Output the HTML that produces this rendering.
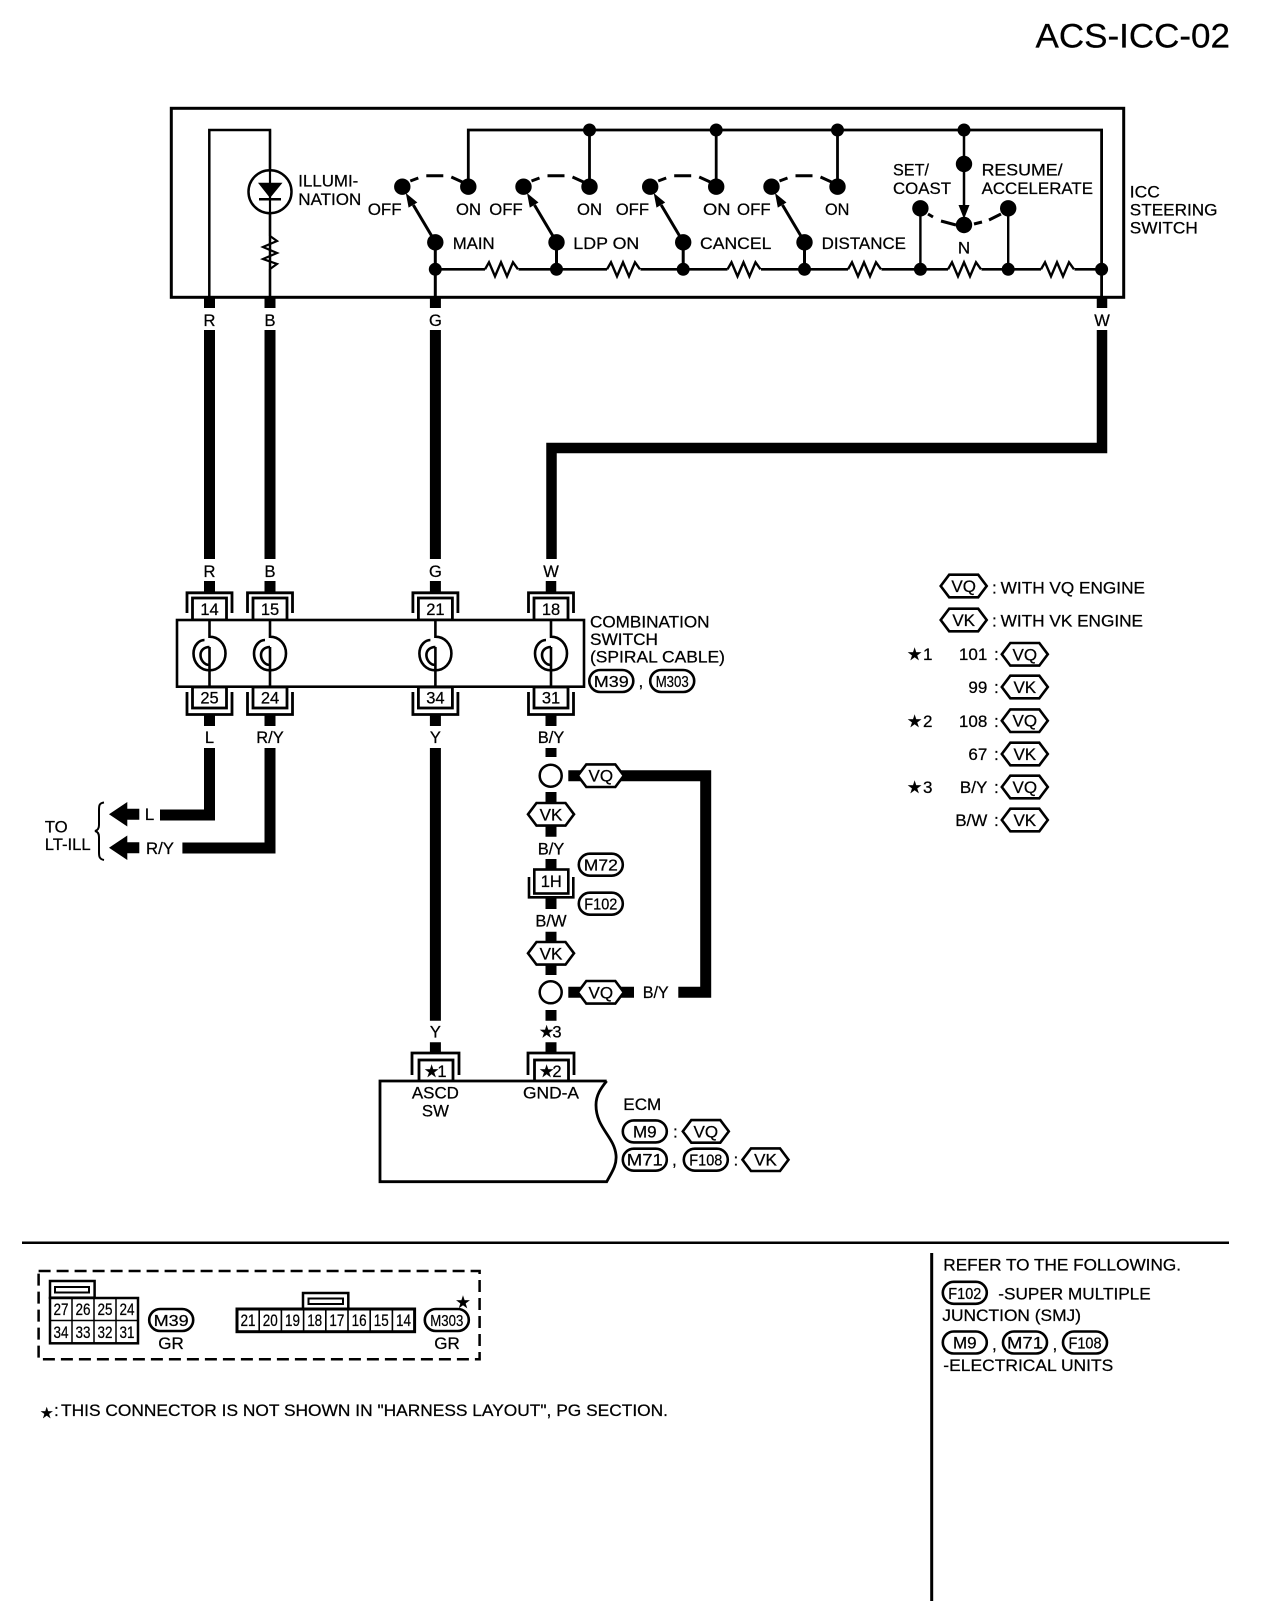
<!DOCTYPE html>
<html><head><meta charset="utf-8"><style>
html,body{margin:0;padding:0;background:#fff}
svg{display:block}
text{font-family:"Liberation Sans",sans-serif;font-size:17px;fill:#000;stroke:#000;stroke-width:.25}
.c{text-anchor:middle}.e{text-anchor:end}
.n{font-size:16.5px;text-anchor:middle}
.st{font-family:"DejaVu Sans",sans-serif;font-size:17px}
.s{font-size:16.5px;text-anchor:middle}
</style></head><body>
<svg width="1280" height="1622" viewBox="0 0 1280 1622" xmlns="http://www.w3.org/2000/svg">
<defs>
<polygon id="hx" points="-23,0 -14.5,-11.3 14.5,-11.3 23,0 14.5,11.3 -14.5,11.3" fill="#fff" stroke="#000" stroke-width="2.6"/>
<rect id="ov" x="-22" y="-11" width="44" height="22" rx="11" fill="#fff" stroke="#000" stroke-width="2.6"/>
<g id="sw">
<circle cx="0" cy="186.7" r="8.2"/><circle cx="66" cy="186.7" r="8.2"/><circle cx="33" cy="242.3" r="8.2"/>
<path d="M8,181 L16,178 M24,175.7 H41 M49,177 L60,182" fill="none" stroke="#000" stroke-width="3"/>
<path d="M33,242 L11,205" stroke="#000" stroke-width="3" fill="none"/>
<polygon points="3.5,193 15,202.5 6.3,207.6"/>
<path d="M33,242 V269" stroke="#000" stroke-width="3" fill="none"/>
<circle cx="33" cy="269.3" r="6.5"/>
</g>
<path id="rs" d="M0,0 L4,-7 L10,7 L16,-7 L22,7 L28,-7 L33,0" fill="none" stroke="#000" stroke-width="2.4"/>
<g id="spi" fill="none" stroke="#000" stroke-width="2.6">
<path d="M0,620 V636.7 C9,636.7 16,644 16,653.5 C16,663 9,670.3 0,670.3 C-9,670.3 -16,663 -16,653.5 C-16,645 -10,640 -5,640"/>
<path d="M0,665 C-6,665 -9,659 -9,655 C-9,650 -5,647 0,647"/>
<path d="M0,687 V647"/>
</g>
<g id="ct" fill="none" stroke="#000" stroke-width="2.8">
<path d="M-22.5,613 V592.8 H22.5 V613"/>
<rect x="-17" y="598" width="34" height="22" fill="#fff"/>
</g>
<g id="cb" fill="none" stroke="#000" stroke-width="2.8">
<path d="M-22.5,692 V714.5 H22.5 V692"/>
<rect x="-17" y="687" width="34" height="21" fill="#fff"/>
</g>
</defs>

<text x="1035.5" y="47.3" style="font-size:34.5px" textLength="194.5" lengthAdjust="spacingAndGlyphs">ACS-ICC-02</text>

<!-- ICC switch -->
<rect x="171.3" y="108.3" width="952.4" height="189" fill="none" stroke="#000" stroke-width="3"/>
<path d="M209.3,297 V130 H270 V297" fill="none" stroke="#000" stroke-width="2.5"/>
<path d="M468.3,186 V130 H1101.6 V297" fill="none" stroke="#000" stroke-width="2.8"/>
<circle cx="270" cy="191.7" r="21.5" fill="#fff" stroke="#000" stroke-width="2.5"/>
<path d="M270,130 V236 M270,269 V297" stroke="#000" stroke-width="2.2" fill="none"/>
<polygon points="258,182.7 282.5,182.7 270,198"/>
<path d="M259,199.3 H281" stroke="#000" stroke-width="2.5"/>
<path d="M270,236 L277,241 L263,247 L277,253 L263,259 L277,264 L270,269" fill="none" stroke="#000" stroke-width="2.2"/>
<text x="298.3" y="186.7" textLength="60" lengthAdjust="spacingAndGlyphs">ILLUMI-</text>
<text x="298.3" y="205" textLength="63" lengthAdjust="spacingAndGlyphs">NATION</text>

<path d="M435.3,269.3 H1101.6" stroke="#000" stroke-width="2.6" fill="none"/>
<g fill="#fff" stroke="none">
<rect x="485" y="262" width="33.5" height="15"/><rect x="607" y="262" width="33.5" height="15"/><rect x="727.5" y="262" width="33.5" height="15"/><rect x="848" y="262" width="33.5" height="15"/><rect x="948" y="262" width="33.5" height="15"/><rect x="1041" y="262" width="33.5" height="15"/>
</g>
<use href="#rs" x="485" y="269.3"/><use href="#rs" x="607" y="269.3"/><use href="#rs" x="727.5" y="269.3"/><use href="#rs" x="848" y="269.3"/><use href="#rs" x="948" y="269.3"/><use href="#rs" x="1041" y="269.3"/>

<use href="#sw" x="402.3"/><use href="#sw" x="523.5"/><use href="#sw" x="650.2"/><use href="#sw" x="771.5"/>
<path d="M435.3,269 V297" stroke="#000" stroke-width="3"/>
<path d="M589.5,130 V186 M716.2,130 V186 M837.5,130 V186" stroke="#000" stroke-width="2.8"/>
<circle cx="589.5" cy="130" r="6.5"/><circle cx="716.2" cy="130" r="6.5"/><circle cx="837.5" cy="130" r="6.5"/><circle cx="964" cy="130" r="6.5"/>

<text x="367.7" y="215" textLength="34" lengthAdjust="spacingAndGlyphs">OFF</text>
<text x="456" y="215" textLength="25" lengthAdjust="spacingAndGlyphs">ON</text>
<text x="489.3" y="215" textLength="33.4" lengthAdjust="spacingAndGlyphs">OFF</text>
<text x="577" y="215" textLength="25" lengthAdjust="spacingAndGlyphs">ON</text>
<text x="615.7" y="215" textLength="33.4" lengthAdjust="spacingAndGlyphs">OFF</text>
<text x="703" y="215" textLength="27.6" lengthAdjust="spacingAndGlyphs">ON</text>
<text x="737" y="215" textLength="33.6" lengthAdjust="spacingAndGlyphs">OFF</text>
<text x="825" y="215" textLength="24.4" lengthAdjust="spacingAndGlyphs">ON</text>
<text x="452.7" y="249" textLength="42" lengthAdjust="spacingAndGlyphs">MAIN</text>
<text x="573.3" y="249" textLength="66" lengthAdjust="spacingAndGlyphs">LDP ON</text>
<text x="700" y="249" textLength="71.4" lengthAdjust="spacingAndGlyphs">CANCEL</text>
<text x="821.6" y="249" textLength="84.4" lengthAdjust="spacingAndGlyphs">DISTANCE</text>

<!-- set / resume -->
<path d="M964,130 V208" stroke="#000" stroke-width="2.5"/>
<circle cx="964" cy="164" r="8.2"/>
<polygon points="964,219 958.5,205 969.5,205"/>
<circle cx="964" cy="225" r="8.2"/>
<circle cx="920.4" cy="208.3" r="8.2"/><circle cx="1008.2" cy="208.3" r="8.2"/>
<path d="M920.4,208 V269 M1008.2,208 V269" stroke="#000" stroke-width="2.4"/>
<path d="M928,214 L933,217 M941,221 L956,225 M974,224 L982,222 M989,220 L1001,214" fill="none" stroke="#000" stroke-width="3"/>
<circle cx="920.4" cy="269.3" r="6.5"/><circle cx="1008.2" cy="269.3" r="6.5"/><circle cx="1101.6" cy="269.3" r="6.5"/>
<text x="893" y="175.7" textLength="36" lengthAdjust="spacingAndGlyphs">SET/</text>
<text x="893" y="194" textLength="58" lengthAdjust="spacingAndGlyphs">COAST</text>
<text x="981.6" y="175.7" textLength="81" lengthAdjust="spacingAndGlyphs">RESUME/</text>
<text x="981.6" y="194" textLength="111.4" lengthAdjust="spacingAndGlyphs">ACCELERATE</text>
<text class="c" x="964" y="253.3">N</text>
<text x="1129.8" y="197.3" textLength="30" lengthAdjust="spacingAndGlyphs">ICC</text>
<text x="1129.8" y="215.7" textLength="87.7" lengthAdjust="spacingAndGlyphs">STEERING</text>
<text x="1129.8" y="233.3" textLength="68" lengthAdjust="spacingAndGlyphs">SWITCH</text>

<!-- wires -->
<g stroke="#000" stroke-width="11" fill="none">
<path d="M209.5,297 V308 M209.5,330 V559 M209.5,581 V593"/>
<path d="M270,297 V308 M270,330 V559 M270,581 V593"/>
<path d="M435.4,297 V308 M435.4,330 V559 M435.4,581 V593"/>
<path d="M1102,297 V308 M1102,330 V448 H551.5 V559 M551,581 V593" stroke-width="10.5"/>
<path d="M209.5,714 V726 M270,714 V726 M435.4,714 V726 M551,714 V726"/>
<path d="M209.5,748 V815 H160"/>
<path d="M270,748 V848 H182.4"/>
<path d="M435.4,748 V1020.7 M435.4,1042.3 V1053"/>
<path d="M551,748 V757 M551,792 V803 M551,826 V836.7 M551,859 V870 M551,897 V909 M551,931.7 V942 M551,964 V975 M551,1010 V1020.7 M551,1042.3 V1053"/>
<path d="M568.3,775.7 H705.7 V992.3 H678.3"/>
<path d="M568.3,992.3 H634"/>
</g>
<text class="s" x="209.5" y="326">R</text><text class="s" x="270" y="326">B</text><text class="s" x="435.4" y="326">G</text><text class="s" x="1102" y="326">W</text>
<text class="s" x="209.5" y="577">R</text><text class="s" x="270" y="577">B</text><text class="s" x="435.4" y="577">G</text><text class="s" x="551" y="577">W</text>
<text class="s" x="209.5" y="743">L</text><text class="s" x="270" y="743">R/Y</text><text class="s" x="435.4" y="743">Y</text><text class="s" x="551" y="743">B/Y</text>

<!-- combination switch -->
<use href="#ct" x="209.5"/><use href="#ct" x="270"/><use href="#ct" x="435.4"/><use href="#ct" x="551"/>
<use href="#cb" x="209.5"/><use href="#cb" x="270"/><use href="#cb" x="435.4"/><use href="#cb" x="551"/>
<rect x="177" y="620" width="407" height="66.7" fill="#fff" stroke="#000" stroke-width="2.6"/>
<use href="#spi" x="209.5"/><use href="#spi" x="270"/><use href="#spi" x="435.4"/><use href="#spi" x="551"/>
<text class="n" x="209.5" y="615">14</text><text class="n" x="270" y="615">15</text><text class="n" x="435.4" y="615">21</text><text class="n" x="551" y="615">18</text>
<text class="n" x="209.5" y="703.5">25</text><text class="n" x="270" y="703.5">24</text><text class="n" x="435.4" y="703.5">34</text><text class="n" x="551" y="703.5">31</text>
<text x="590" y="627.3" textLength="119.5" lengthAdjust="spacingAndGlyphs">COMBINATION</text>
<text x="590" y="645" textLength="68" lengthAdjust="spacingAndGlyphs">SWITCH</text>
<text x="590" y="662.7" textLength="135" lengthAdjust="spacingAndGlyphs">(SPIRAL CABLE)</text>
<use href="#ov" x="611.3" y="681"/><text class="c" x="611.3" y="687" style="font-size:16px" textLength="35" lengthAdjust="spacingAndGlyphs">M39</text>
<text x="638.5" y="687">,</text>
<use href="#ov" x="672.2" y="681"/><text class="c" x="672.2" y="687" style="font-size:16px" textLength="33" lengthAdjust="spacingAndGlyphs">M303</text>

<!-- LT-ILL -->
<polygon points="109,814.3 127.3,802 127.3,808.8 139.3,808.8 139.3,819.8 127.3,819.8 127.3,826.5"/>
<polygon points="109,847.7 127.3,835.5 127.3,842.2 139.3,842.2 139.3,853.2 127.3,853.2 127.3,860"/>
<text x="144.8" y="820">L</text><text x="146" y="854" textLength="28" lengthAdjust="spacingAndGlyphs">R/Y</text>
<path d="M104,802.5 C99,803 99,806 99,810 V825 C99,829 97,830.5 95,831 C97,831.5 99,833 99,837 V852 C99,856 99,859 104,860" fill="none" stroke="#000" stroke-width="2"/>
<text x="44.7" y="832.7" textLength="23" lengthAdjust="spacingAndGlyphs">TO</text>
<text x="44.7" y="850" textLength="46" lengthAdjust="spacingAndGlyphs">LT-ILL</text>

<!-- splices -->
<circle cx="550.7" cy="775.7" r="11" fill="#fff" stroke="#000" stroke-width="2.5"/>
<circle cx="550.7" cy="992.3" r="11" fill="#fff" stroke="#000" stroke-width="2.5"/>
<use href="#hx" x="600.8" y="775.7"/><text class="c" x="600.8" y="781.7">VQ</text>
<use href="#hx" x="551" y="814.3"/><text class="c" x="551" y="820.3">VK</text>
<text class="s" x="551" y="854.3">B/Y</text>
<path d="M529,877 V897.3 H573.3 V877" fill="none" stroke="#000" stroke-width="2.6"/>
<rect x="534.3" y="869.5" width="34" height="24" fill="#fff" stroke="#000" stroke-width="2.6"/>
<text class="n" x="551.3" y="887">1H</text>
<use href="#ov" x="600.8" y="864.7"/><text class="c" x="600.8" y="870.5" style="font-size:16px" textLength="34" lengthAdjust="spacingAndGlyphs">M72</text>
<use href="#ov" x="600.8" y="903.7"/><text class="c" x="600.8" y="909.5" style="font-size:16px" textLength="33" lengthAdjust="spacingAndGlyphs">F102</text>
<text class="s" x="551" y="926.7">B/W</text>
<use href="#hx" x="551" y="953.3"/><text class="c" x="551" y="959.3">VK</text>
<use href="#hx" x="600.8" y="992.3"/><text class="c" x="600.8" y="998.3">VQ</text>
<text x="642.7" y="998" style="font-size:16.5px" textLength="26" lengthAdjust="spacingAndGlyphs">B/Y</text>
<text class="s" x="435.4" y="1037.7">Y</text>
<text class="st" x="539" y="1037.7">★</text><text class="n" x="557" y="1037.7">3</text>

<!-- ECM -->
<g fill="none" stroke="#000" stroke-width="2.8">
<path d="M412,1075 V1053 H459 V1075"/><path d="M528,1075 V1053 H574 V1075"/>
<rect x="419" y="1060" width="34" height="21" fill="#fff"/><rect x="534.5" y="1060" width="34" height="21" fill="#fff"/>
<path d="M606.7,1081 H380 V1181.7 H606.7 C612,1172 617,1165 616,1155 C614,1136 596,1128 596,1105 C596,1095 601,1088 606.7,1081" fill="#fff"/>
</g>
<text class="st" x="424" y="1077">★</text><text class="n" x="442" y="1077">1</text>
<text class="st" x="539" y="1077">★</text><text class="n" x="557" y="1077">2</text>
<text class="c" x="435.4" y="1098.3" textLength="47" lengthAdjust="spacingAndGlyphs">ASCD</text>
<text class="c" x="435.4" y="1116.7" textLength="27" lengthAdjust="spacingAndGlyphs">SW</text>
<text class="c" x="551" y="1098.3" textLength="56" lengthAdjust="spacingAndGlyphs">GND-A</text>
<text x="623.3" y="1110" textLength="38" lengthAdjust="spacingAndGlyphs">ECM</text>
<use href="#ov" x="644.8" y="1131.4"/><text class="c" x="644.8" y="1137.4">M9</text>
<text x="673" y="1137.4">:</text>
<use href="#hx" x="705.8" y="1131.4"/><text class="c" x="705.8" y="1137.4">VQ</text>
<use href="#ov" x="644.8" y="1159.7"/><text class="c" x="644.8" y="1165.7" textLength="36" lengthAdjust="spacingAndGlyphs">M71</text>
<text x="672" y="1165.7">,</text>
<use href="#ov" x="705.8" y="1159.7"/><text class="c" x="705.8" y="1165.7" style="font-size:16px" textLength="33" lengthAdjust="spacingAndGlyphs">F108</text>
<text x="733.5" y="1165.7">:</text>
<use href="#hx" x="765.5" y="1159.7"/><text class="c" x="765.5" y="1165.7">VK</text>

<!-- legend -->
<use href="#hx" x="963.7" y="586"/><text class="c" x="963.7" y="592">VQ</text>
<text x="992" y="593.3">:</text><text x="1000.7" y="593.3" textLength="144.3" lengthAdjust="spacingAndGlyphs">WITH VQ ENGINE</text>
<use href="#hx" x="963.7" y="620"/><text class="c" x="963.7" y="626">VK</text>
<text x="992" y="626.7">:</text><text x="1000.7" y="626.7" textLength="142.3" lengthAdjust="spacingAndGlyphs">WITH VK ENGINE</text>
<text class="st" x="907" y="660">★</text><text x="923" y="660">1</text>
<text class="st" x="907" y="727">★</text><text x="923" y="727">2</text>
<text class="st" x="907" y="793">★</text><text x="923" y="793">3</text>
<text class="e" x="987.3" y="660">101</text><text x="994" y="660">:</text>
<text class="e" x="987.3" y="693">99</text><text x="994" y="693">:</text>
<text class="e" x="987.3" y="727">108</text><text x="994" y="727">:</text>
<text class="e" x="987.3" y="760">67</text><text x="994" y="760">:</text>
<text class="e" x="987.3" y="793">B/Y</text><text x="994" y="793">:</text>
<text class="e" x="987.3" y="826">B/W</text><text x="994" y="826">:</text>
<use href="#hx" x="1024.8" y="654.3"/><text class="c" x="1024.8" y="660.3">VQ</text>
<use href="#hx" x="1024.8" y="687"/><text class="c" x="1024.8" y="693">VK</text>
<use href="#hx" x="1024.8" y="720.7"/><text class="c" x="1024.8" y="726.7">VQ</text>
<use href="#hx" x="1024.8" y="754"/><text class="c" x="1024.8" y="760">VK</text>
<use href="#hx" x="1024.8" y="787"/><text class="c" x="1024.8" y="793">VQ</text>
<use href="#hx" x="1024.8" y="820"/><text class="c" x="1024.8" y="826">VK</text>

<!-- bottom -->
<path d="M22,1242.7 H1229" stroke="#000" stroke-width="2.5"/>
<path d="M931.7,1253 V1601" stroke="#000" stroke-width="3"/>
<rect x="38.6" y="1271" width="441" height="88.3" fill="none" stroke="#000" stroke-width="2.5" stroke-dasharray="12 6"/>

<g fill="none" stroke="#000" stroke-width="2.5">
<rect x="50" y="1281" width="44.6" height="16.7"/>
<rect x="55" y="1287" width="34" height="5.5" stroke-width="2"/>
<rect x="50" y="1298" width="88" height="45.3"/>
<path d="M72,1298 V1343.3 M94,1298 V1343.3 M116,1298 V1343.3 M50,1320.5 H138" stroke-width="1.5"/>
<rect x="303" y="1293" width="45.3" height="16"/>
<rect x="308.5" y="1298.5" width="34.5" height="5.5" stroke-width="2"/>
<rect x="237" y="1309" width="177.6" height="22.7" stroke-width="3"/>
<path d="M259.2,1309 V1331.7 M281.4,1309 V1331.7 M303.6,1309 V1331.7 M325.8,1309 V1331.7 M348,1309 V1331.7 M370.2,1309 V1331.7 M392.4,1309 V1331.7" stroke-width="1.6"/>
</g>
<text class="s" x="61" y="1315" textLength="15" lengthAdjust="spacingAndGlyphs">27</text><text class="s" x="83" y="1315" textLength="15" lengthAdjust="spacingAndGlyphs">26</text><text class="s" x="105" y="1315" textLength="15" lengthAdjust="spacingAndGlyphs">25</text><text class="s" x="127" y="1315" textLength="15" lengthAdjust="spacingAndGlyphs">24</text>
<text class="s" x="61" y="1338" textLength="15" lengthAdjust="spacingAndGlyphs">34</text><text class="s" x="83" y="1338" textLength="15" lengthAdjust="spacingAndGlyphs">33</text><text class="s" x="105" y="1338" textLength="15" lengthAdjust="spacingAndGlyphs">32</text><text class="s" x="127" y="1338" textLength="15" lengthAdjust="spacingAndGlyphs">31</text>
<text class="s" x="248" y="1326" textLength="15" lengthAdjust="spacingAndGlyphs">21</text><text class="s" x="270.3" y="1326" textLength="15" lengthAdjust="spacingAndGlyphs">20</text><text class="s" x="292.5" y="1326" textLength="15" lengthAdjust="spacingAndGlyphs">19</text><text class="s" x="314.7" y="1326" textLength="15" lengthAdjust="spacingAndGlyphs">18</text><text class="s" x="336.9" y="1326" textLength="15" lengthAdjust="spacingAndGlyphs">17</text><text class="s" x="359.1" y="1326" textLength="15" lengthAdjust="spacingAndGlyphs">16</text><text class="s" x="381.3" y="1326" textLength="15" lengthAdjust="spacingAndGlyphs">15</text><text class="s" x="403.5" y="1326" textLength="15" lengthAdjust="spacingAndGlyphs">14</text>
<use href="#ov" x="171.2" y="1320"/><text class="c" x="171.2" y="1326" style="font-size:16px" textLength="35" lengthAdjust="spacingAndGlyphs">M39</text>
<text class="c" x="171" y="1349">GR</text>
<use href="#ov" x="446.8" y="1320"/><text class="c" x="446.8" y="1326" style="font-size:16px" textLength="33" lengthAdjust="spacingAndGlyphs">M303</text>
<text class="c" x="447" y="1349">GR</text>
<text class="st c" x="463" y="1308">★</text>

<text class="st" x="40" y="1418" style="font-size:15px">★</text>
<text x="54" y="1416">:</text>
<text x="61" y="1416" textLength="607" lengthAdjust="spacingAndGlyphs">THIS CONNECTOR IS NOT SHOWN IN "HARNESS LAYOUT", PG SECTION.</text>

<text x="943.3" y="1270.7" textLength="237.7" lengthAdjust="spacingAndGlyphs">REFER TO THE FOLLOWING.</text>
<use href="#ov" x="964.8" y="1292.8"/><text class="c" x="964.8" y="1298.8" style="font-size:16px" textLength="33" lengthAdjust="spacingAndGlyphs">F102</text>
<text x="998.3" y="1299.3" textLength="152.4" lengthAdjust="spacingAndGlyphs">-SUPER MULTIPLE</text>
<text x="942.3" y="1321" textLength="138.7" lengthAdjust="spacingAndGlyphs">JUNCTION (SMJ)</text>
<use href="#ov" x="964.8" y="1342.5"/><text class="c" x="964.8" y="1348.5">M9</text>
<text x="992" y="1350">,</text>
<use href="#ov" x="1025" y="1342.5"/><text class="c" x="1025" y="1348.5" textLength="36" lengthAdjust="spacingAndGlyphs">M71</text>
<text x="1052.5" y="1350">,</text>
<use href="#ov" x="1085" y="1342.5"/><text class="c" x="1085" y="1348.5" style="font-size:16px" textLength="33" lengthAdjust="spacingAndGlyphs">F108</text>
<text x="943.3" y="1371" textLength="170" lengthAdjust="spacingAndGlyphs">-ELECTRICAL UNITS</text>
</svg>
</body></html>
